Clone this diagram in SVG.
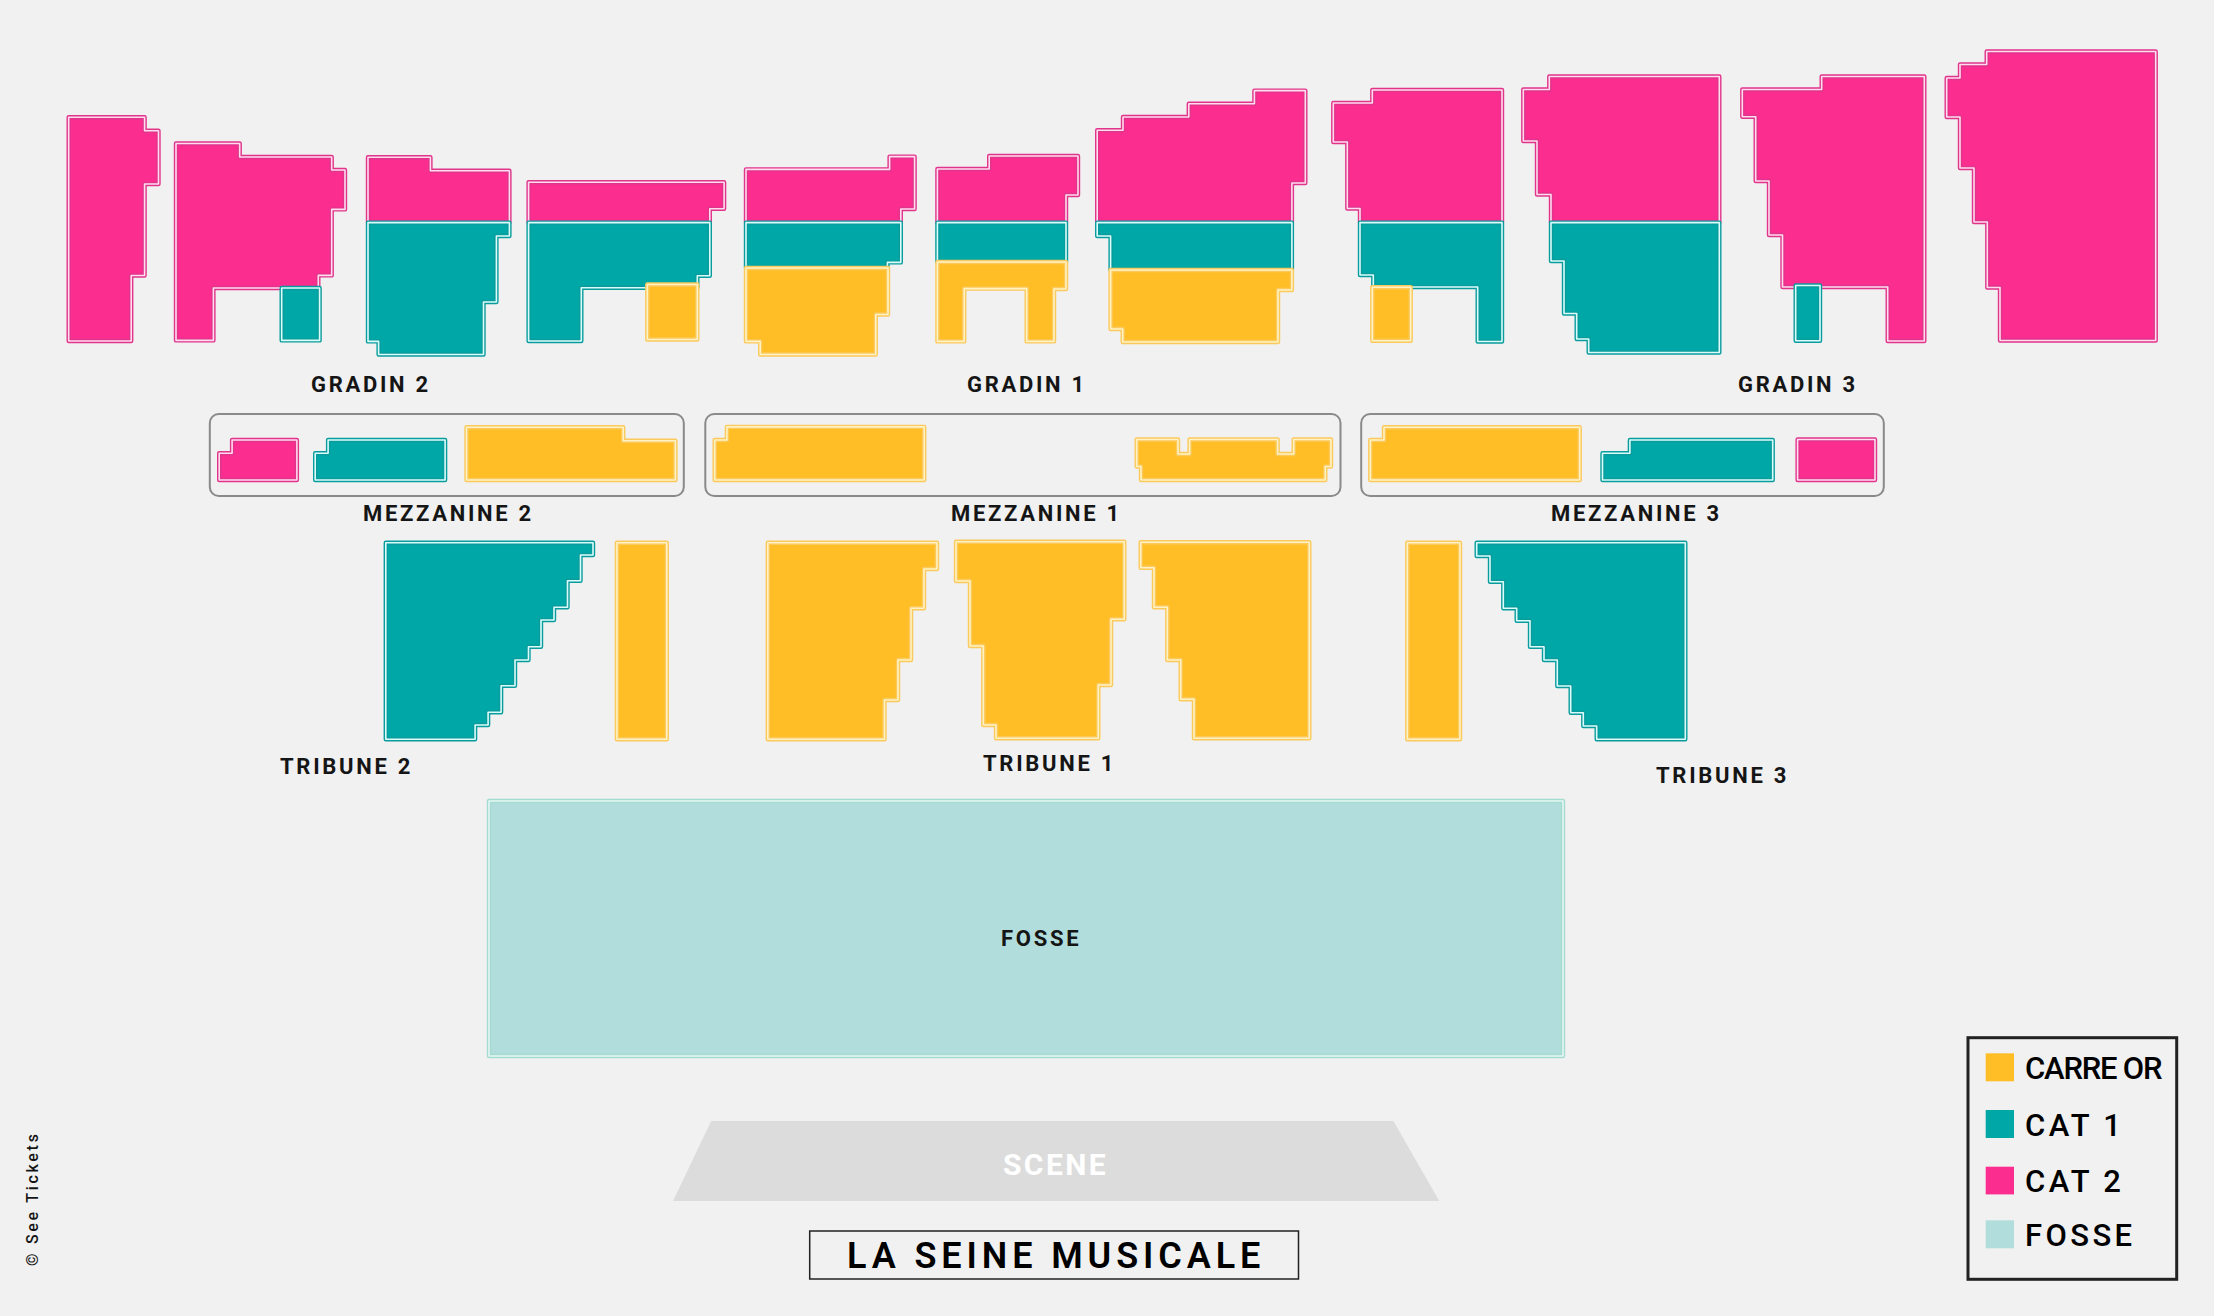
<svg xmlns="http://www.w3.org/2000/svg" width="2214" height="1316" viewBox="0 0 2214 1316">
<style>
text{font-family:Roboto,"Liberation Sans",sans-serif;fill:#151515}
.lb{font-size:22px;font-weight:700;letter-spacing:2.7px}
.lg{font-size:31px;font-weight:500;fill:#000}
.pk,.tl,.gd,.fs{stroke-width:4.4;stroke-linejoin:round}
use{fill:none;stroke-width:1.6}
.pk{fill:#fb2e90;stroke:#e0358b}.pk use{stroke:#ffdcee}
.tl{fill:#00a7a7;stroke:#0a9c9c}.tl use{stroke:#dcfcfc}
.gd{fill:#ffbe26;stroke:#fbc95c}.gd use{stroke:#fff2c4}
.fs{fill:#b2dddd;stroke:#a4dccf}.fs use{stroke:#e6f6f6}
.box{fill:none;stroke:#8a8a8a;stroke-width:2}
</style>
<rect width="2214" height="1316" fill="#f1f1f1"/>

<g id="gradin-2">
<g class="pk"><polygon id="a1" points="68.7,117.3 144.6,117.3 144.6,130.7 158.5,130.7 158.5,184 144.6,184 144.6,275.5 131.2,275.5 131.2,341 68.7,341"/><use href="#a1"/></g>
<g class="pk"><polygon id="a2" points="176,143.5 239.7,143.5 239.7,157 331.7,157 331.7,170 345,170 345,209.4 331.7,209.4 331.7,275.4 318.3,275.4 318.3,288 213.4,288 213.4,340.4 176,340.4"/><use href="#a2"/></g>
<g class="tl"><polygon id="a3" points="281.7,288 319.6,288 319.6,340.4 281.7,340.4"/><use href="#a3"/></g>
<g class="pk"><polygon id="a4" points="368,157.3 430.4,157.3 430.4,170.7 509.4,170.7 509.4,222.6 368,222.6"/><use href="#a4"/></g>
<g class="tl"><polygon id="a5" points="368,222.6 509.4,222.6 509.4,236 496.4,236 496.4,302 483.5,302 483.5,354.5 378.6,354.5 378.6,341.4 368,341.4"/><use href="#a5"/></g>
<g class="pk"><polygon id="a6" points="528.6,182.3 724.1,182.3 724.1,208.7 709.8,208.7 709.8,222.6 528.6,222.6"/><use href="#a6"/></g>
<g class="tl"><polygon id="a7" points="528.6,222.6 709.8,222.6 709.8,275.7 697.3,275.7 697.3,287.7 581.3,287.7 581.3,341 528.6,341"/><use href="#a7"/></g>
<g class="gd"><polygon id="a8" points="647.3,284.5 697.3,284.5 697.3,339.5 647.3,339.5"/><use href="#a8"/></g>
<text class="lb" x="311" y="391.7">GRADIN 2</text>
</g>

<g id="gradin-1">
<g class="pk"><polygon id="b1" points="746,169.4 889.6,169.4 889.6,156.6 914.6,156.6 914.6,209 900.8,209 900.8,222.6 746,222.6"/><use href="#b1"/></g>
<g class="tl"><polygon id="b2" points="746,222.6 900.8,222.6 900.8,262.4 887.4,262.4 887.4,268 746,268"/><use href="#b2"/></g>
<g class="gd"><polygon id="b3" points="746,268 888,268 888,314.5 875.8,314.5 875.8,354.5 760.2,354.5 760.2,341.4 746,341.4"/><use href="#b3"/></g>
<g class="pk"><polygon id="b4" points="937.4,169 989.2,169 989.2,156 1078,156 1078,195 1066,195 1066,222.6 937.4,222.6"/><use href="#b4"/></g>
<g class="tl"><polygon id="b5" points="937.4,222.6 1066,222.6 1066,262 937.4,262"/><use href="#b5"/></g>
<g class="gd"><polygon id="b6" points="937.4,262 1066,262 1066,289 1054,289 1054,341.4 1026.7,341.4 1026.7,288.6 964.2,288.6 964.2,341.4 937.4,341.4"/><use href="#b6"/></g>
<g class="pk"><polygon id="b7" points="1097.2,130.2 1123,130.2 1123,117 1188.8,117 1188.8,103.8 1254.4,103.8 1254.4,90.6 1305.3,90.6 1305.3,183 1291.9,183 1291.9,222.6 1097.2,222.6"/><use href="#b7"/></g>
<g class="tl"><polygon id="b8" points="1097.2,222.6 1291.9,222.6 1291.9,270 1110.6,270 1110.6,236 1097.2,236"/><use href="#b8"/></g>
<g class="gd"><polygon id="b9" points="1110.6,270 1291.9,270 1291.9,290 1278,290 1278,342 1122.7,342 1122.7,329 1110.6,329"/><use href="#b9"/></g>
<g class="pk"><polygon id="b10" points="1333.3,103 1372.3,103 1372.3,90 1502,90 1502,222.6 1360,222.6 1360,208.5 1347.3,208.5 1347.3,142 1333.3,142"/><use href="#b10"/></g>
<g class="tl"><polygon id="b11" points="1360,222.6 1502,222.6 1502,341.5 1477.7,341.5 1477.7,287 1373.3,287 1373.3,275 1360,275"/><use href="#b11"/></g>
<g class="gd"><polygon id="b12" points="1372.3,287.3 1410.7,287.3 1410.7,340.7 1372.3,340.7"/><use href="#b12"/></g>
<text class="lb" x="967" y="391.7">GRADIN 1</text>
</g>

<g id="gradin-3">
<g class="pk"><polygon id="c1" points="1523.3,89.5 1549.3,89.5 1549.3,76.5 1719.3,76.5 1719.3,222.6 1551,222.6 1551,194.5 1537,194.5 1537,141 1523.3,141"/><use href="#c1"/></g>
<g class="tl"><polygon id="c2" points="1551,222.6 1719.3,222.6 1719.3,352.5 1588.7,352.5 1588.7,339 1576.7,339 1576.7,313.5 1564,313.5 1564,261 1551,261"/><use href="#c2"/></g>
<g class="pk"><polygon id="c3" points="1742.3,89.5 1821.7,89.5 1821.7,76.5 1924.3,76.5 1924.3,341 1887.7,341 1887.7,287 1782.5,287 1782.5,235 1769,235 1769,181 1755.7,181 1755.7,116.7 1742.3,116.7"/><use href="#c3"/></g>
<g class="tl"><polygon id="c4" points="1795.7,285.5 1820,285.5 1820,340.7 1795.7,340.7"/><use href="#c4"/></g>
<g class="pk"><polygon id="c5" points="1946.7,78 1960,78 1960,64.5 1986.7,64.5 1986.7,51.5 2155.7,51.5 2155.7,340.5 2000,340.5 2000,287.5 1987.3,287.5 1987.3,222 1974,222 1974,168 1960,168 1960,117 1946.7,117"/><use href="#c5"/></g>
<text class="lb" x="1738" y="391.7">GRADIN 3</text>
</g>

<g id="mezzanine-2">
<rect class="box" x="209.8" y="414" width="474" height="82" rx="9"/>
<g class="pk"><polygon id="d1" points="219.2,453.3 232.1,453.3 232.1,440 296.9,440 296.9,480 219.2,480"/><use href="#d1"/></g>
<g class="tl"><polygon id="d2" points="315.2,453.3 328.1,453.3 328.1,440 445.1,440 445.1,480 315.2,480"/><use href="#d2"/></g>
<g class="gd"><polygon id="d3" points="466.5,427.3 623.2,427.3 623.2,440.7 675.4,440.7 675.4,480 466.5,480"/><use href="#d3"/></g>
<text class="lb" x="363" y="521">MEZZANINE 2</text>
</g>

<g id="mezzanine-1">
<rect class="box" x="705.3" y="414" width="635.2" height="82" rx="9"/>
<g class="gd"><polygon id="e1" points="714.7,440 726.9,440 726.9,426.9 924.2,426.9 924.2,480 714.7,480"/><use href="#e1"/></g>
<g class="gd"><polygon id="e2" points="1136.7,439.5 1178,439.5 1178,454 1189.6,454 1189.6,439.5 1277.6,439.5 1277.6,454 1293.7,454 1293.7,439.5 1331,439.5 1331,466.5 1325.3,466.5 1325.3,480 1141,480 1141,466.5 1136.7,466.5"/><use href="#e2"/></g>
<text class="lb" x="951" y="521">MEZZANINE 1</text>
</g>

<g id="mezzanine-3">
<rect class="box" x="1361.2" y="414" width="522.6" height="82" rx="9"/>
<g class="gd"><polygon id="f1" points="1370.3,440 1384,440 1384,427.3 1579.7,427.3 1579.7,480 1370.3,480"/><use href="#f1"/></g>
<g class="tl"><polygon id="f2" points="1602.5,453.3 1629.9,453.3 1629.9,440 1772.7,440 1772.7,480 1602.5,480"/><use href="#f2"/></g>
<g class="pk"><polygon id="f3" points="1797.6,439.5 1875,439.5 1875,480 1797.6,480"/><use href="#f3"/></g>
<text class="lb" x="1551" y="520.5">MEZZANINE 3</text>
</g>

<g id="tribune-2">
<g class="tl"><polygon id="g1" points="385.8,542.7 593,542.7 593,555 580.5,555 580.5,580.7 567.5,580.7 567.5,607.3 554,607.3 554,620 541,620 541,646.7 528.5,646.7 528.5,660 515,660 515,685.7 501.1,685.7 501.1,712.3 488.1,712.3 488.1,725 475.1,725 475.1,739.3 385.8,739.3"/><use href="#g1"/></g>
<g class="gd"><polygon id="g2" points="616.9,542.7 666.8,542.7 666.8,739.3 616.9,739.3"/><use href="#g2"/></g>
<text class="lb" x="280" y="774.3">TRIBUNE 2</text>
</g>

<g id="tribune-1">
<g class="gd"><polygon id="h1" points="767.8,542.7 937,542.7 937,569 924,569 924,608.3 911,608.3 911,660 898,660 898,700 884.5,700 884.5,739.3 767.8,739.3"/><use href="#h1"/></g>
<g class="gd"><polygon id="h2" points="956,541.7 1124.3,541.7 1124.3,619.3 1111,619.3 1111,685 1098.3,685 1098.3,738.3 996,738.3 996,725 983.3,725 983.3,646 970,646 970,581 956,581"/><use href="#h2"/></g>
<g class="gd"><polygon id="h3" points="1140.7,542.3 1309.3,542.3 1309.3,738.3 1194,738.3 1194,699.3 1180.7,699.3 1180.7,660 1167.3,660 1167.3,607.3 1154,607.3 1154,567.7 1140.7,567.7"/><use href="#h3"/></g>
<text class="lb" x="983" y="770.7">TRIBUNE 1</text>
</g>

<g id="tribune-3">
<g class="gd"><polygon id="i1" points="1407.3,542.7 1460,542.7 1460,739.3 1407.3,739.3"/><use href="#i1"/></g>
<g class="tl"><polygon id="i2" points="1476.7,542.7 1685.3,542.7 1685.3,739.3 1596.7,739.3 1596.7,726 1583.3,726 1583.3,712.7 1570.7,712.7 1570.7,686 1557.3,686 1557.3,660 1544,660 1544,646.7 1530,646.7 1530,620.7 1516.7,620.7 1516.7,608.3 1503.3,608.3 1503.3,581.7 1490,581.7 1490,556 1476.7,556"/><use href="#i2"/></g>
<text class="lb" x="1656" y="783.3">TRIBUNE 3</text>
</g>

<g id="fosse">
<g class="fs"><polygon id="j1" points="489,801 1563,801 1563,1056 489,1056"/><use href="#j1"/></g>
<text class="lb" x="1001" y="946">FOSSE</text>
</g>

<g id="scene">
<polygon points="711.2,1121 1393.4,1121 1439.3,1201 673,1201" style="fill:#dcdcdc;stroke:none"/>
<text x="1003" y="1175" style="font-size:30px;font-weight:700;letter-spacing:2.4px;fill:#fff">SCENE</text>
</g>

<g id="title">
<rect x="809.7" y="1231" width="488.8" height="48" fill="none" stroke="#222" stroke-width="1.5"/>
<text x="847" y="1268.3" style="font-size:36px;font-weight:600;letter-spacing:4.9px;fill:#000">LA SEINE MUSICALE</text>
</g>

<g id="legend">
<rect x="1968" y="1037.7" width="208.7" height="241.6" fill="none" stroke="#222" stroke-width="3"/>
<rect x="1985.7" y="1053.3" width="28.3" height="28" fill="#ffbe26"/>
<rect x="1985.7" y="1110" width="28.3" height="28" fill="#00a7a7"/>
<rect x="1985.7" y="1166.7" width="28.3" height="27.7" fill="#fb2e90"/>
<rect x="1985.7" y="1220.3" width="28.3" height="28" fill="#b2dddd"/>
<text class="lg" x="2025" y="1079" letter-spacing="-1.2">CARRE OR</text>
<text class="lg" x="2025" y="1136" letter-spacing="3.4">CAT 1</text>
<text class="lg" x="2025" y="1192" letter-spacing="3.4">CAT 2</text>
<text class="lg" x="2025" y="1246" letter-spacing="3.4">FOSSE</text>
</g>

<text id="copyright" transform="translate(38 1266) rotate(-90)" style="font-size:16px;font-weight:500;letter-spacing:2.7px">© See Tickets</text>
</svg>
